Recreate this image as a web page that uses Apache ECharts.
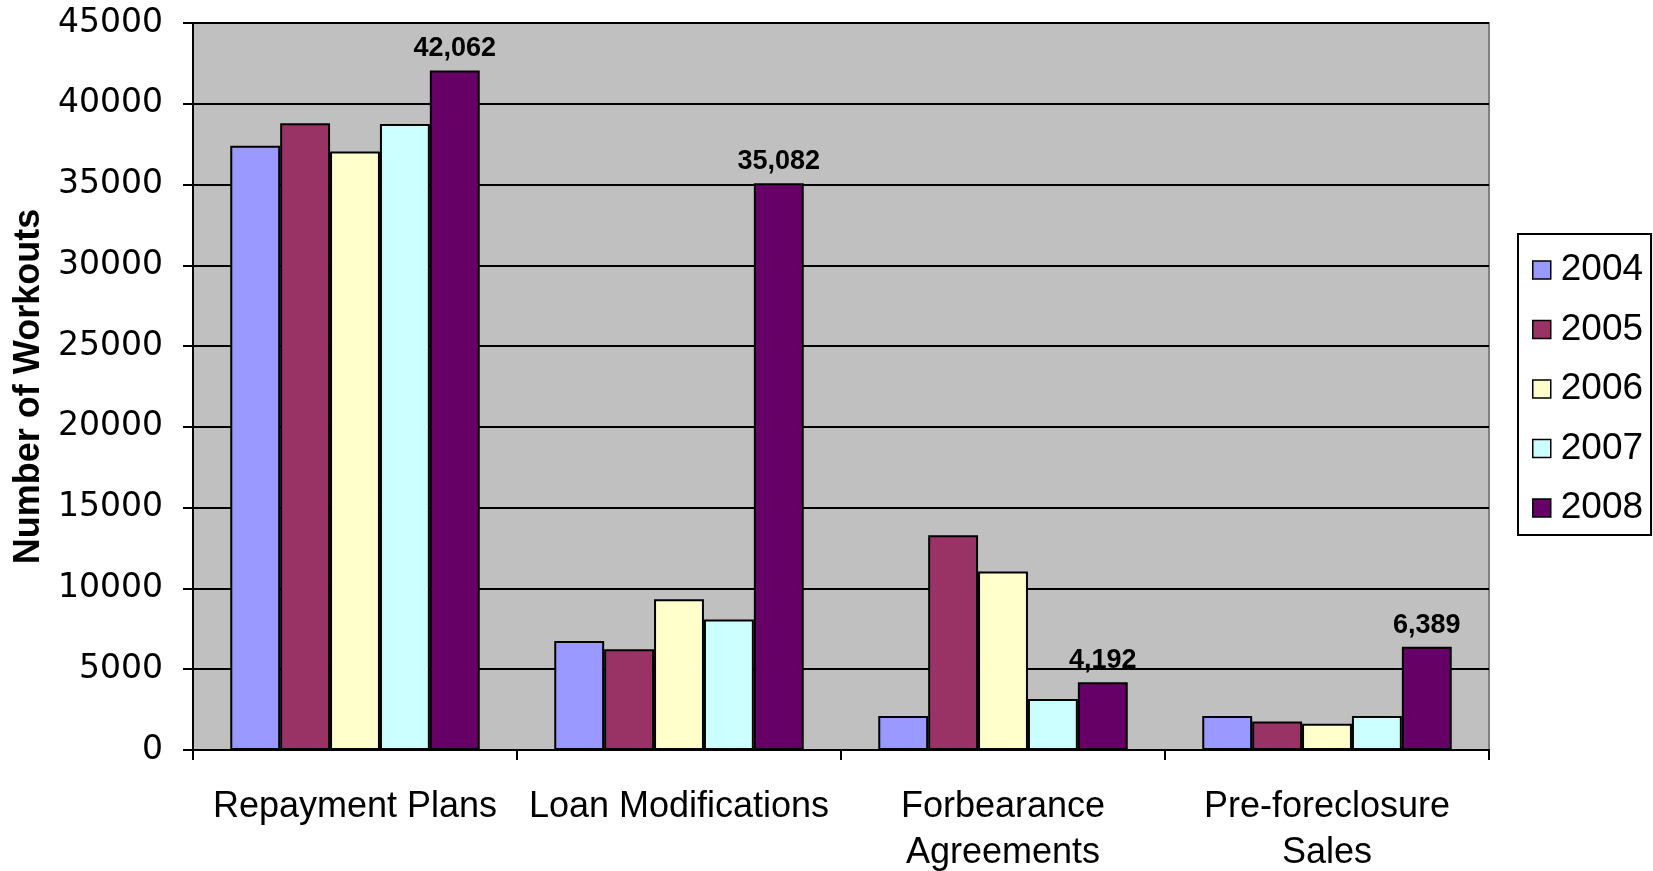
<!DOCTYPE html>
<html>
<head>
<meta charset="utf-8">
<script src="https://cdn.jsdelivr.net/npm/echarts@6/dist/echarts.min.js"></script>
<style>html,body{margin:0;padding:0;background:#fff}#c{width:1653px;height:871px}</style>
</head>
<body>
<div id="c"></div>
<script>
const categories = ["Repayment Plans", "Loan Modifications", "Forbearance Agreements", "Pre-foreclosure Sales"];
const years = ["2004", "2005", "2006", "2007", "2008"];
const v2004 = [37400, 6750, 2100, 2100];
const v2005 = [38800, 6240, 13300, 1760];
const v2006 = [37050, 9330, 11050, 1620];
const v2007 = [38750, 8080, 3150, 2100];
const v2008 = [42062, 35082, 4192, 6389];
const yTicks = [0, 5000, 10000, 15000, 20000, 25000, 30000, 35000, 40000, 45000];
const colors = ["#9999FF", "#993366", "#FFFFCC", "#CCFFFF", "#660066"];
const seriesValues = [v2004, v2005, v2006, v2007, v2008];

const chart = echarts.init(document.getElementById('c'), null, {renderer: 'canvas'});
const series = years.map((y, i) => ({
  name: y,
  type: 'bar',
  data: seriesValues[i],
  barGap: '0%',
  barCategoryGap: '23%',
  itemStyle: {color: colors[i], borderColor: '#000', borderWidth: 2},
  label: i === 4 ? {
    show: true, position: 'top', distance: 8,
    fontFamily: 'Liberation Sans', fontWeight: 'bold', fontSize: 27, color: '#000',
    formatter: p => p.value.toLocaleString('en-US')
  } : {show: false},
  emphasis: {disabled: true}
}));

chart.setOption({
  animation: false,
  grid: {left: 193, right: 164, top: 23, bottom: 121, outerBoundsMode: 'none', containLabel: false,
         show: true, backgroundColor: '#C0C0C0', borderColor: '#808080', borderWidth: 2},
  legend: {
    orient: 'vertical', left: 1518, top: 234,
    data: years,
    itemWidth: 18, itemHeight: 18, itemGap: 21.5,
    padding: [17, 8, 8, 14],
    borderColor: '#000', borderWidth: 2, backgroundColor: '#fff',
    icon: 'rect',
    itemStyle: {borderColor: '#000', borderWidth: 1.5},
    textStyle: {fontFamily: 'Liberation Sans', fontSize: 37, color: '#000', lineHeight: 38, padding: [0, 0, 0, 5]},
    selectedMode: false
  },
  xAxis: {
    type: 'category', data: categories,
    axisLine: {lineStyle: {color: '#000', width: 2}},
    axisTick: {show: true, length: 10, lineStyle: {color: '#000', width: 2}},
    axisLabel: {
      interval: 0, margin: 34, color: '#000', fontFamily: 'Liberation Sans', fontSize: 36, lineHeight: 46,
      formatter: s => s.length > 18 ? s.replace(/ (?=[^ ]*$)/, '\n') : s
    }
  },
  yAxis: {
    type: 'value', min: 0, max: 45000, interval: 5000,
    name: 'Number of Workouts', nameLocation: 'middle', nameGap: 146, nameRotate: 90,
    nameTextStyle: {fontFamily: 'Liberation Sans', fontWeight: 'bold', fontSize: 36, color: '#000'},
    axisLine: {show: true, lineStyle: {color: '#000', width: 2}},
    axisTick: {show: true, length: 10, lineStyle: {color: '#000', width: 2}},
    splitLine: {lineStyle: {color: '#000', width: 2}},
    axisLabel: {
      margin: 30, color: '#000', fontFamily: 'DejaVu Sans', fontSize: 33,
      formatter: v => yTicks.includes(v) ? String(v) : ''
    }
  },
  series: series
});
</script>
</body>
</html>
